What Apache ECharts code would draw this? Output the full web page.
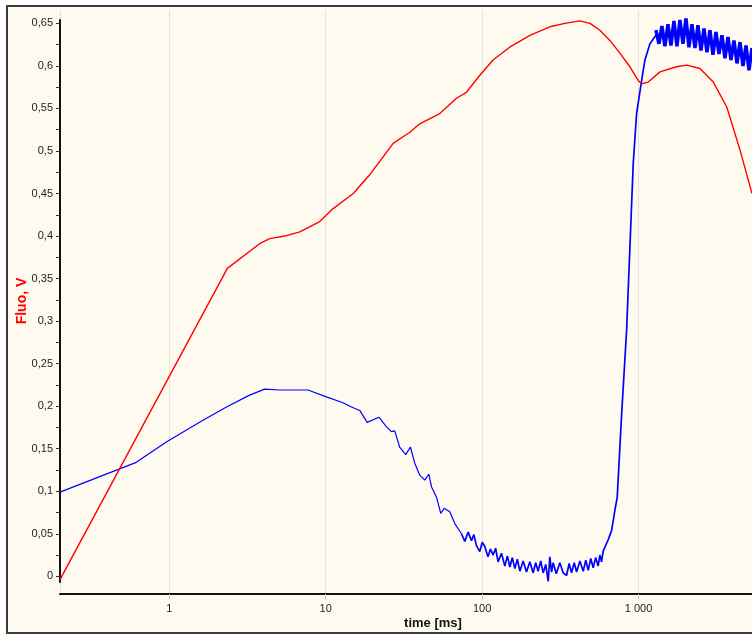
<!DOCTYPE html>
<html>
<head>
<meta charset="utf-8">
<script src="https://cdn.jsdelivr.net/npm/echarts@6/dist/echarts.min.js"></script>
<style>
  html, body { margin: 0; padding: 0; background: #fff; }
  #chart { width: 752px; height: 635px; }
</style>
</head>
<body>
<div id="chart"></div>
<script>
var timeTicks = [1, 10, 100, 1000];
var valueLabels = [0, 0.05, 0.1, 0.15, 0.2, 0.25, 0.3, 0.35, 0.4, 0.45, 0.5, 0.55, 0.6, 0.65];
var valueTicks = [0, 0.025, 0.05, 0.075, 0.1, 0.125, 0.15, 0.175, 0.2, 0.225, 0.25, 0.275, 0.3,
  0.325, 0.35, 0.375, 0.4, 0.425, 0.45, 0.475, 0.5, 0.525, 0.55, 0.575, 0.6, 0.625, 0.65];

// time [ms], Fluo [V]
var redData = [
  [0.2, -0.004], [2.35, 0.362], [3.78, 0.391], [4.38, 0.397], [5.47, 0.400], [6.83, 0.405],
  [9.16, 0.417], [11.1, 0.432], [15.0, 0.450], [19.1, 0.472], [27.0, 0.509], [34.5, 0.522],
  [39.9, 0.532], [53.6, 0.544], [68.6, 0.562], [79.4, 0.569], [96.7, 0.589], [117.5, 0.607],
  [150, 0.622], [202, 0.636], [271, 0.646], [338, 0.650], [422, 0.653], [489, 0.650],
  [566, 0.642], [656, 0.630], [760, 0.615], [881, 0.599], [995, 0.583], [1047, 0.579],
  [1154, 0.581], [1371, 0.593], [1753, 0.599], [2032, 0.601], [2471, 0.597], [3006, 0.581],
  [3661, 0.552], [4458, 0.501], [5316, 0.450]
];

// blue trace, smooth start and the slide down
var blueData = [
  [0.2, 0.099], [0.615, 0.134], [0.957, 0.158], [1.56, 0.181], [2.32, 0.199], [3.26, 0.213],
  [4.07, 0.220], [5.08, 0.219], [7.70, 0.219], [10.1, 0.211], [12.9, 0.204], [14.6, 0.199],
  [16.5, 0.195], [18.4, 0.181], [21.9, 0.187], [24.4, 0.176], [26.3, 0.170], [27.6, 0.171],
  [29.7, 0.152], [32.5, 0.143], [34.8, 0.152], [37.1, 0.133], [39.9, 0.119], [43.0, 0.113],
  [45.6, 0.120], [47.5, 0.105], [51.1, 0.093], [54.4, 0.074], [57.2, 0.080], [62.1, 0.076],
  [66.9, 0.062], [73.8, 0.050]
];

// noisy floor and the fast rise
var blueFloor = [
  [73.8, 0.050], [77.5, 0.041], [81.4, 0.052], [85.5, 0.042], [88.6, 0.049], [92.0, 0.036],
  [96.6, 0.029], [100.2, 0.040], [104, 0.035], [109, 0.023], [113, 0.032], [117.6, 0.025],
  [122, 0.033], [126.5, 0.017], [133, 0.027], [139.7, 0.012], [145, 0.024], [150.5, 0.011],
  [156, 0.022], [161.9, 0.009], [168, 0.020], [174.3, 0.006], [183, 0.018], [192.2, 0.005],
  [202, 0.017], [212, 0.004], [220, 0.016], [228, 0.006], [237, 0.018], [245.7, 0.004],
  [255, 0.014], [264.5, -0.006], [271, 0.023], [278, 0.005], [284.6, 0.016], [298, 0.003],
  [314, 0.016], [330, 0.004], [346.6, 0.001], [360, 0.015], [373, 0.004], [388, 0.016],
  [402, 0.005], [422, 0.018], [443, 0.006], [460, 0.019], [477, 0.007], [495, 0.021],
  [513, 0.010], [532, 0.022], [552, 0.012], [566, 0.025], [580, 0.017], [595, 0.030],
  [610, 0.030], [640, 0.043], [673, 0.054], [707, 0.078], [731, 0.093], [780, 0.191],
  [839, 0.289], [881, 0.387], [925, 0.485], [972, 0.544], [1047, 0.583], [1099, 0.607],
  [1183, 0.626], [1292, 0.636]
];

// thick noise band after the peak, upper / lower edges
var blueBand = [
  [1292, 0.642], [1351, 0.626], [1411, 0.647], [1475, 0.623], [1542, 0.649], [1612, 0.624],
  [1685, 0.653], [1761, 0.623], [1840, 0.654], [1924, 0.626], [2011, 0.656], [2101, 0.622],
  [2196, 0.649], [2296, 0.621], [2399, 0.648], [2508, 0.618], [2621, 0.644], [2739, 0.616],
  [2863, 0.642], [2992, 0.613], [3128, 0.640], [3269, 0.614], [3416, 0.636], [3571, 0.609],
  [3733, 0.634], [3901, 0.607], [4077, 0.630], [4262, 0.603], [4455, 0.628], [4656, 0.600],
  [4867, 0.624], [5086, 0.595], [5316, 0.621]
];

var labelFont = { fontFamily: 'Liberation Sans', fontSize: 11, color: '#222' };

function fmtTime(v) {
  var s = String(Math.round(v));
  return s.replace(/\B(?=(\d{3})+$)/g, ' ');
}
function fmtValue(v) {
  return String(+v.toFixed(3)).replace('.', ',');
}

function blueLine(data, width) {
  return {
    type: 'line',
    xAxisIndex: 0,
    yAxisIndex: 0,
    showSymbol: false,
    symbol: 'none',
    data: data,
    lineStyle: { color: '#0000ff', width: width, join: 'bevel' }
  };
}

var chart = echarts.init(document.getElementById('chart'));
chart.setOption({
  animation: false,
  backgroundColor: '#fff',
  graphic: [{
    type: 'rect',
    z: -10,
    shape: { x: 7, y: 6, width: 770, height: 627 },
    style: { fill: '#fffaf0', stroke: '#3c3c3c', lineWidth: 2 }
  }],
  grid: [
    { left: 60, top: 20, width: 692, height: 562 },
    { left: 60, top: 10, width: 692, height: 584 }
  ],
  xAxis: [{
    type: 'log',
    gridIndex: 0,
    min: 0.2,
    max: 5316,
    offset: 12,
    name: 'time [ms]',
    nameLocation: 'middle',
    nameGap: 23,
    nameMoveOverlap: false,
    nameTextStyle: {
      fontFamily: 'Liberation Sans', fontSize: 13, fontWeight: 'bold', color: '#111',
      padding: [0, 0, 0, 54]
    },
    axisLine: { onZero: false, lineStyle: { color: '#111', width: 2 } },
    axisTick: { customValues: timeTicks, length: 6, lineStyle: { color: '#d4d4d4' } },
    axisLabel: Object.assign({ customValues: timeTicks, margin: 9, formatter: fmtTime }, labelFont),
    splitLine: { show: false }
  }, {
    type: 'log',
    gridIndex: 1,
    min: 0.2,
    max: 5316,
    axisLine: { show: false },
    axisTick: { show: false },
    axisLabel: { show: false },
    splitLine: { show: true, lineStyle: { color: '#e2e2e2', width: 1 } }
  }],
  yAxis: [{
    type: 'value',
    gridIndex: 0,
    min: -0.0067,
    max: 0.654,
    name: 'Fluo, V',
    nameLocation: 'middle',
    nameGap: 31,
    nameMoveOverlap: false,
    nameTextStyle: { fontFamily: 'Liberation Sans', fontSize: 14, fontWeight: 'bold', color: '#ff0000' },
    axisLine: { show: true, onZero: false, lineStyle: { color: '#111', width: 2 } },
    axisTick: { show: true, customValues: valueTicks, length: 4, lineStyle: { color: '#333' } },
    axisLabel: Object.assign({ customValues: valueLabels, margin: 7, formatter: fmtValue }, labelFont),
    splitLine: { show: false }
  }, {
    type: 'value',
    gridIndex: 1,
    min: 0,
    max: 1,
    show: false
  }],
  series: [
    blueLine(blueData, 1.2),
    blueLine(blueFloor, 1.7),
    blueLine(blueBand, 3.5),
    {
      name: 'Fluo',
      type: 'line',
      xAxisIndex: 0,
      yAxisIndex: 0,
      showSymbol: false,
      symbol: 'none',
      data: redData,
      lineStyle: { color: '#ff0000', width: 1.4 }
    }
  ]
});
</script>
</body>
</html>
